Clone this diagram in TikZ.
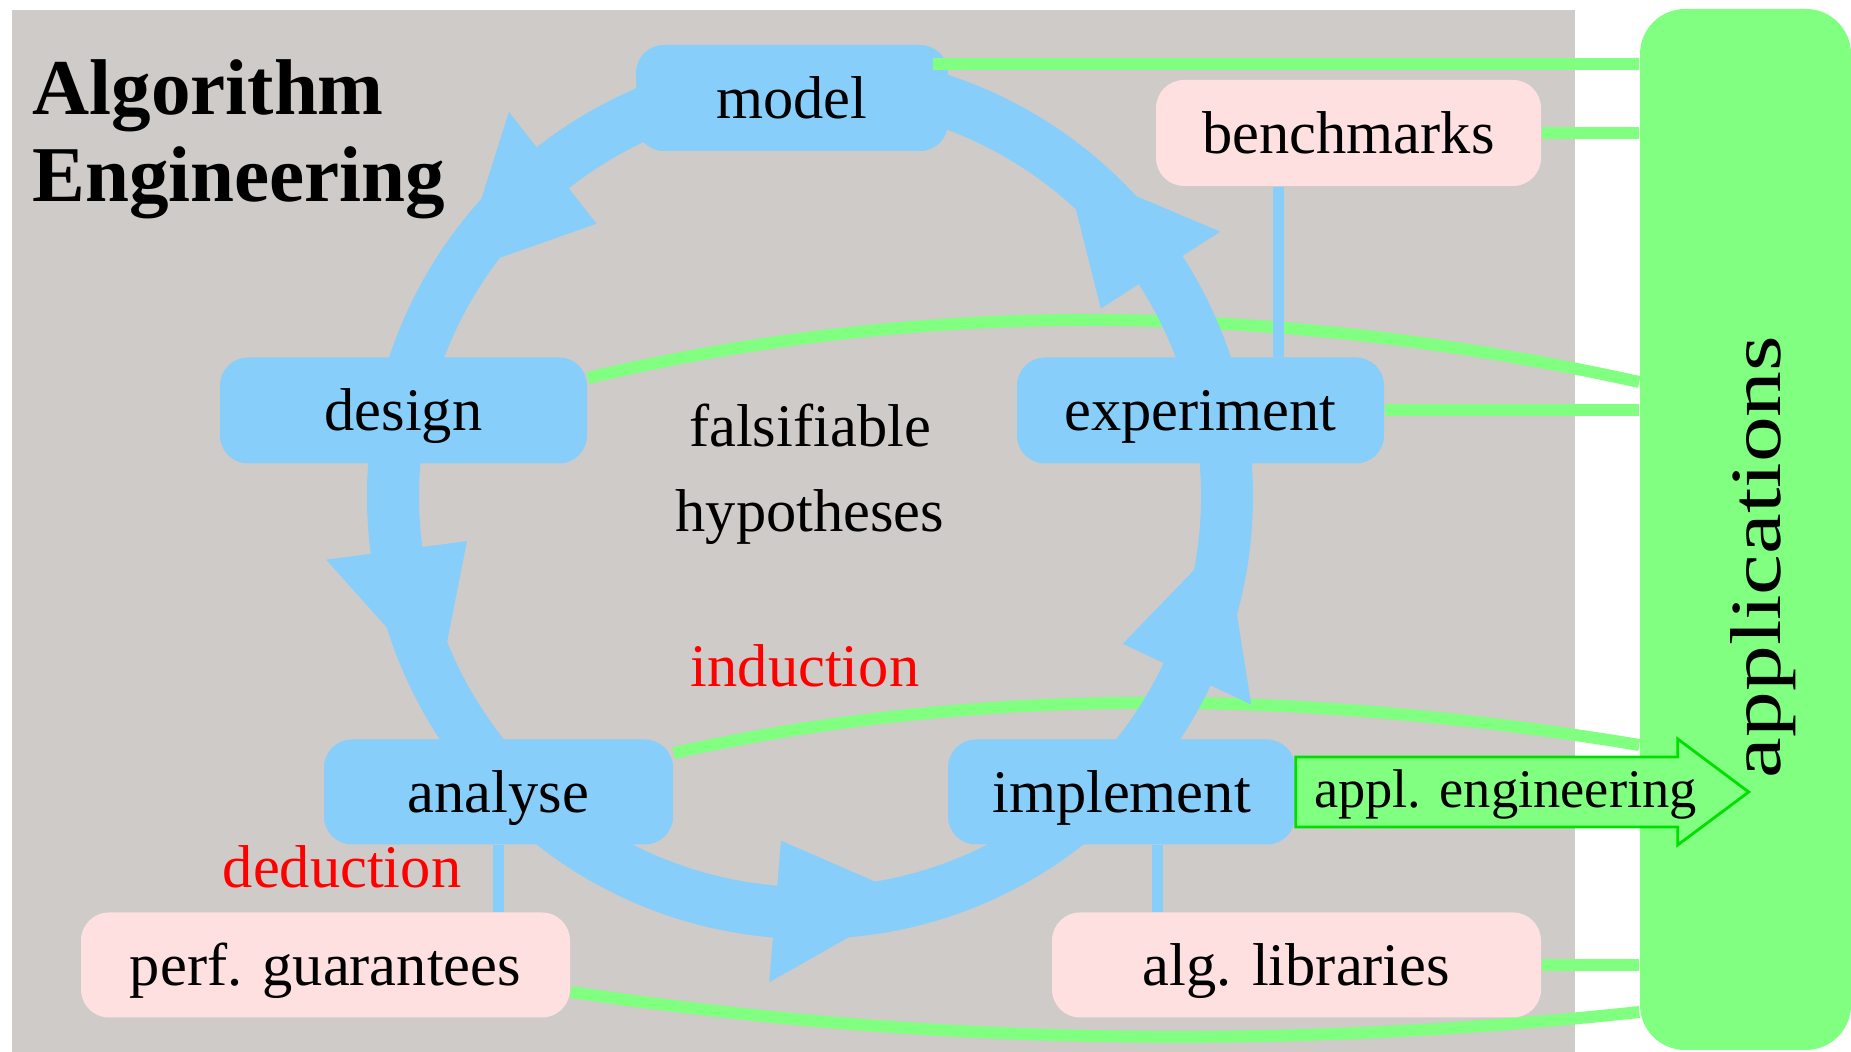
\documentclass[tikz,border=0pt]{standalone}
\usepackage{fontspec}
\setmainfont{Liberation Serif}
\usetikzlibrary{backgrounds}

\definecolor{paper}{RGB}{207,203,200}
\definecolor{stageblue}{RGB}{135,206,250}
\definecolor{storepink}{RGB}{255,224,224}
\definecolor{applgreen}{RGB}{128,255,128}
\definecolor{edgegreen}{RGB}{0,224,0}
\newcommand{\labelfont}{\fontsize{17.2}{24.2}\selectfont}

\tikzset{
  stage/.style={rounded corners=0.28cm, fill=stageblue, minimum height=1.06cm,
    text height=0.53cm, text depth=0.12cm, font=\labelfont},
  store/.style={stage, fill=storepink},
  link/.style={draw=applgreen, line width=0.12cm},
  tie/.style={draw=stageblue, line width=0.11cm},
  ring/.style={draw=stageblue, line width=0.52cm},
  applarrow/.style={fill=applgreen, draw=edgegreen, line width=0.8pt},
}

\begin{document}
\begin{tikzpicture}
    \useasboundingbox (0,0) rectangle (18.51,10.52);
    \node[anchor=base west, align=left, font=\bfseries\fontsize{22.5}{24.75}\selectfont]
        (title) at (0.20,8.50) {Algorithm\\Engineering};
    % stages of the cycle
    \node[stage, minimum width=3.12cm] (model) at (7.92,9.54) {model};
    \node[stage, minimum width=3.67cm] (design) at (4.035,6.415) {design};
    \node[stage, minimum width=3.67cm] (experiment) at (12.005,6.415) {experiment};
    \node[stage, minimum width=3.49cm, minimum height=1.05cm] (analyse) at (4.985,2.60) {analyse};
    \node[stage, minimum width=3.47cm, minimum height=1.05cm] (implement) at (11.215,2.60) {implement};
    % what comes out of it
    \node[store, minimum width=3.85cm] (benchmarks) at (13.485,9.19) {benchmarks};
    \node[store, minimum width=4.89cm, minimum height=1.05cm] (perf) at (3.255,0.87) {perf. guarantees};
    \node[store, minimum width=4.89cm, minimum height=1.05cm] (alg) at (12.965,0.87) {alg. libraries};
    \node[fill=applgreen, rounded corners=0.45cm, minimum width=2.11cm, minimum height=10.41cm,
        inner sep=0pt] (apps) at (17.455,5.225) {};
    \node[rotate=90, anchor=base, font=\fontsize{20.5}{24}\selectfont]
        (applabel) at (17.80,4.95) {\scalebox{1.27}[1]{applications}};
    \node[align=center, font=\labelfont] (hypo) at (8.10,5.775) {falsifiable\\hypotheses};
    \node[anchor=base, red, font=\labelfont] (induction) at (8.05,3.65) {induction};
    \node[anchor=base, red, font=\labelfont] (deduction) at (3.42,1.64) {deduction};

    \begin{scope}[on background layer]
      \fill[paper] (0.12,0) rectangle (15.75,10.42);% grey field
      \draw[link] (benchmarks.east) -- (benchmarks.east -| apps.west);
      \draw[link] (experiment.east) -- (experiment.east -| apps.west);
      \draw[link] (alg.east) -- (alg.east -| apps.west);
      \draw[link] ([yshift=3.25mm]design.east)
          .. controls (9.20,7.53) and (12.71,7.51) .. ([yshift=14.75mm]apps.west);
      \draw[link] ([yshift=3.9mm]analyse.east)
          .. controls (9.60,3.63) and (12.83,3.66) .. ([yshift=-21.55mm]apps.west);
      \draw[link] ([yshift=-2.7mm]perf.east)
          .. controls (9.20,0.08) and (12.77,0.01) .. ([yshift=-48.25mm]apps.west);
      \begin{scope}[shift={(8.1,5.56)}]
        \draw[ring] (0,0) circle (4.17);
        \foreach \a in {128.1,187.5,265.2,334.7,32.8}{% one head per arc
          \fill[stageblue] ({\a+19.5}:4.17) -- (\a:4.88) -- (\a:3.46) -- cycle;}
      \end{scope}
    \end{scope}

    \coordinate (m) at ([shift={(-0.16,0.34)}]model.east);
    \draw[link] (m) -- (m -| apps.west);
    \draw[tie] ([xshift=-7mm]benchmarks.south) -- ([xshift=-7mm]benchmarks.south |- experiment.north);
    \draw[tie] (analyse.south) -- (analyse.south |- perf.north);
    \draw[tie] ([xshift=3.55mm]implement.south) -- ([xshift=3.55mm]implement.south |- alg.north);
    \draw[applarrow] ([yshift=3.5mm]implement.east) -- ++(3.82,0) -- ++(0,0.18)
        -- ++(0.71,-0.53) -- ++(-0.71,-0.53) -- ++(0,0.18) -- ([yshift=-3.5mm]implement.east) -- cycle;
    \node[anchor=base west, font=\fontsize{15.5}{18}\selectfont]
        (appl) at ([shift={(0.06,-0.16)}]implement.east) {appl. engineering};
\end{tikzpicture}
\end{document}
